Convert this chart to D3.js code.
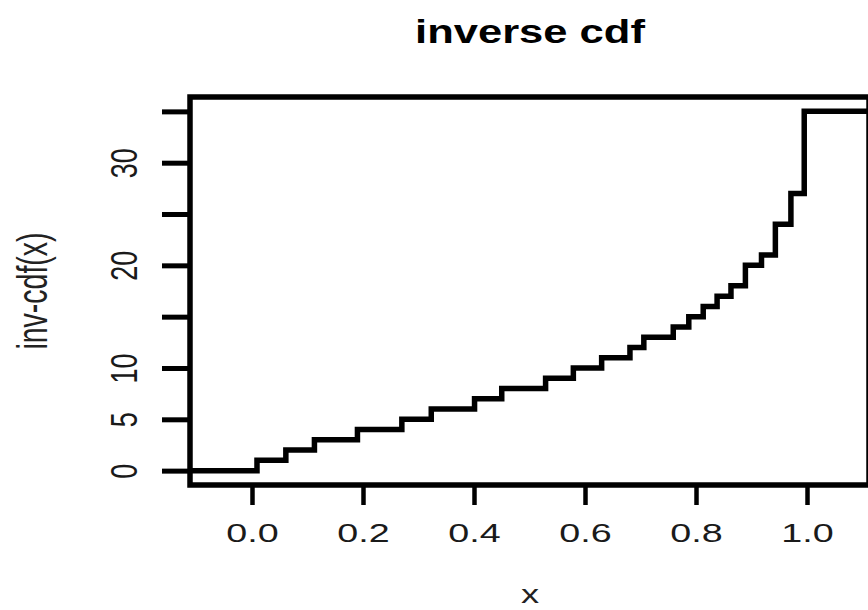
<!DOCTYPE html>
<html>
<head>
<meta charset="utf-8">
<script src="https://cdn.jsdelivr.net/npm/d3@7"></script>
<style>
  html, body { margin: 0; padding: 0; background: #fff; }
  svg { display: block; font-family: "Liberation Sans", Arial, sans-serif; }
</style>
</head>
<body>
<svg id="chart" width="868" height="610"></svg>
<script>
// Jump locations (probability) and the quantile value reached at each jump
const jumpX = [0.009, 0.061, 0.1125, 0.19, 0.27, 0.323, 0.401, 0.45, 0.529, 0.579,
               0.63, 0.681, 0.706, 0.759, 0.787, 0.813, 0.838, 0.863, 0.889, 0.918,
               0.943, 0.971, 0.995];
const jumpLevel = [1, 2, 3, 4, 5, 6, 7, 8, 9, 10, 11, 12, 13, 14, 15, 16, 17, 18,
                   20, 21, 24, 27, 35];
const startLevel = 0;

const xTicks = [0, 0.2, 0.4, 0.6, 0.8, 1.0];
const xTickLabels = ["0.0", "0.2", "0.4", "0.6", "0.8", "1.0"];
const yTicks = [0, 5, 10, 15, 20, 25, 30, 35];
const yLabeled = [0, 5, 10, 20, 30];

const xDomain = [-0.1117, 1.1117];
const yDomain = [-1.4, 36.4];

const svg = d3.select("#chart");
const box = { left: 190, right: 869, top: 97, bottom: 485 };

const x = d3.scaleLinear().domain(xDomain).range([box.left, box.right]);
const y = d3.scaleLinear().domain(yDomain).range([box.bottom, box.top]);

// step function points: level holds until the next jump
const pts = [[xDomain[0], startLevel]]
  .concat(jumpX.map((p, i) => [p, jumpLevel[i]]))
  .concat([[xDomain[1], jumpLevel[jumpLevel.length - 1]]]);

svg.append("clipPath").attr("id", "plotclip")
  .append("rect")
  .attr("x", box.left).attr("y", box.top)
  .attr("width", box.right - box.left).attr("height", box.bottom - box.top);

const line = d3.line()
  .x(d => x(d[0]))
  .y(d => y(d[1]))
  .curve(d3.curveStepAfter);

svg.append("path")
  .datum(pts)
  .attr("clip-path", "url(#plotclip)")
  .attr("fill", "none")
  .attr("stroke", "#000")
  .attr("stroke-width", 5.5)
  .attr("stroke-linejoin", "miter")
  .attr("stroke-linecap", "square")
  .attr("d", line);

// plot frame
svg.append("rect")
  .attr("x", box.left).attr("y", box.top)
  .attr("width", box.right - box.left).attr("height", box.bottom - box.top)
  .attr("fill", "none")
  .attr("stroke", "#000")
  .attr("stroke-width", 5.5);

// x axis
const xAxis = d3.axisBottom(x)
  .tickValues(xTicks)
  .tickSize(20)
  .tickFormat((d, i) => xTickLabels[i]);

const gx = svg.append("g")
  .attr("transform", `translate(0,${box.bottom})`)
  .call(xAxis);
gx.select(".domain").remove();
gx.selectAll(".tick line").attr("stroke", "#000").attr("stroke-width", 4.5);
gx.selectAll(".tick text")
  .attr("y", null).attr("dy", null)
  .attr("fill", "#1a1a1a")
  .attr("font-size", 26)
  .attr("text-anchor", "middle")
  .attr("transform", "translate(0,57) scale(1.45,1)");

// y axis
const yAxis = d3.axisLeft(y)
  .tickValues(yTicks)
  .tickSize(28)
  .tickFormat(d => yLabeled.includes(d) ? String(d) : "");

const gy = svg.append("g")
  .attr("transform", `translate(${box.left},0)`)
  .call(yAxis);
gy.select(".domain").remove();
gy.selectAll(".tick line").attr("stroke", "#000").attr("stroke-width", 5);
gy.selectAll(".tick text")
  .attr("x", null).attr("dy", null)
  .attr("fill", "#1a1a1a")
  .attr("font-size", 27)
  .attr("text-anchor", "middle")
  .attr("transform", "translate(-53,0) scale(1.4,1) rotate(-90)");

// title
svg.append("text")
  .attr("transform", "translate(530,43) scale(1.28,1)")
  .attr("text-anchor", "middle")
  .attr("font-weight", "bold")
  .attr("font-size", 34)
  .attr("fill", "#000")
  .text("inverse cdf");

// axis titles
svg.append("text")
  .attr("transform", "translate(530,603) scale(1.45,1)")
  .attr("text-anchor", "middle")
  .attr("font-size", 25)
  .attr("fill", "#222")
  .text("x");

svg.append("text")
  .attr("transform", "translate(47,291) scale(1.5,1) rotate(-90)")
  .attr("text-anchor", "middle")
  .attr("font-size", 28.5)
  .attr("fill", "#222")
  .text("inv-cdf(x)");
</script>
</body>
</html>
